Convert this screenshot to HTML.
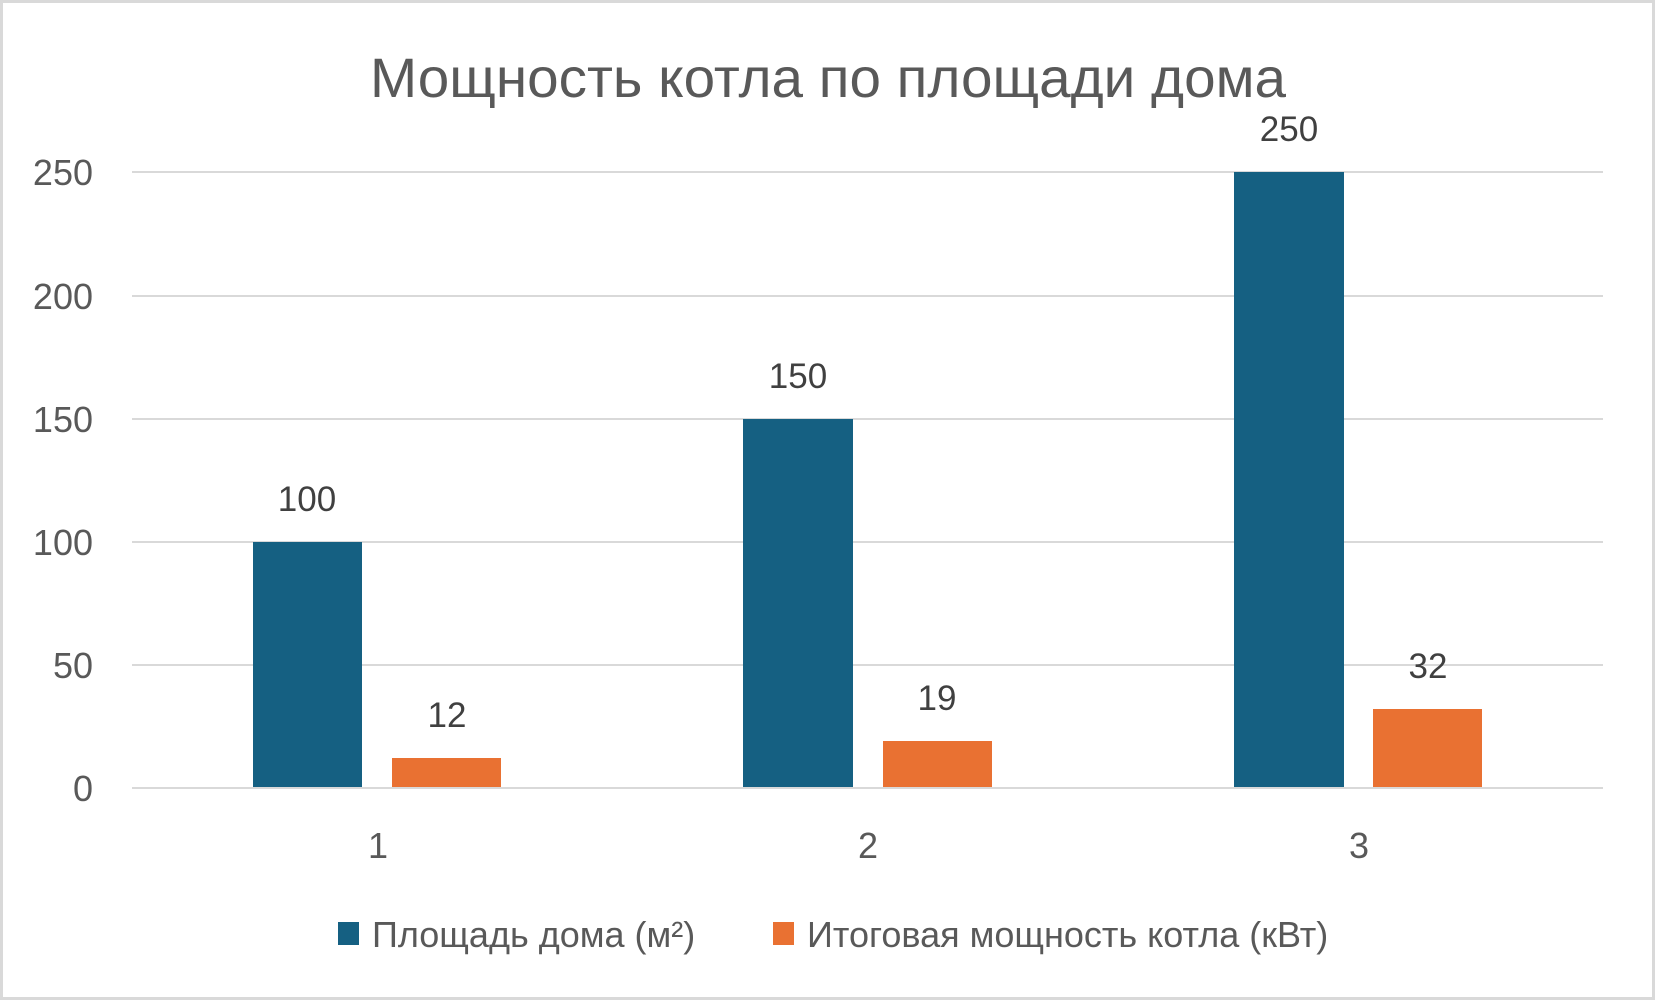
<!DOCTYPE html>
<html><head><meta charset="utf-8"><style>
html,body{margin:0;padding:0;background:#fff}
svg{display:block}
text{font-family:"Liberation Sans","DejaVu Sans",sans-serif}
</style></head><body>
<svg width="1656" height="1001" viewBox="0 0 1656 1001" xmlns="http://www.w3.org/2000/svg">
<rect x="1.5" y="1.5" width="1652" height="997" fill="#fff" stroke="#d9d9d9" stroke-width="3"/>
<text x="370" y="97" font-size="56" fill="#595959" textLength="916" lengthAdjust="spacingAndGlyphs">Мощность котла по площади дома</text>
<g stroke="#d9d9d9" stroke-width="2">
<line x1="132" x2="1603" y1="172" y2="172"/>
<line x1="132" x2="1603" y1="296" y2="296"/>
<line x1="132" x2="1603" y1="419" y2="419"/>
<line x1="132" x2="1603" y1="542" y2="542"/>
<line x1="132" x2="1603" y1="665" y2="665"/>
<line x1="132" x2="1603" y1="788" y2="788"/>
</g>
<g font-size="36" fill="#595959" text-anchor="end">
<text x="93" y="185">250</text>
<text x="93" y="309">200</text>
<text x="93" y="432">150</text>
<text x="93" y="555">100</text>
<text x="93" y="678">50</text>
<text x="93" y="801">0</text>
</g>
<g fill="#156082">
<rect x="253" y="542" width="109" height="245"/>
<rect x="743" y="419" width="110" height="368"/>
<rect x="1234" y="172" width="110" height="615"/>
</g>
<g fill="#E97132">
<rect x="392" y="758" width="109" height="29"/>
<rect x="883" y="741" width="109" height="46"/>
<rect x="1373" y="709" width="109" height="78"/>
</g>
<g font-size="35" fill="#404040" text-anchor="middle">
<text x="307" y="511">100</text>
<text x="798" y="388">150</text>
<text x="1289" y="141">250</text>
<text x="447" y="727">12</text>
<text x="937" y="710">19</text>
<text x="1428" y="678">32</text>
</g>
<g font-size="36" fill="#595959" text-anchor="middle">
<text x="378" y="858">1</text>
<text x="868" y="858">2</text>
<text x="1359" y="858">3</text>
</g>
<rect x="338" y="922" width="21" height="23" fill="#156082"/>
<text x="372" y="947" font-size="36" fill="#595959">Площадь дома (м²)</text>
<rect x="773" y="922" width="21" height="23" fill="#E97132"/>
<text x="807" y="947" font-size="36" fill="#595959">Итоговая мощность котла (кВт)</text>
</svg>
</body></html>
